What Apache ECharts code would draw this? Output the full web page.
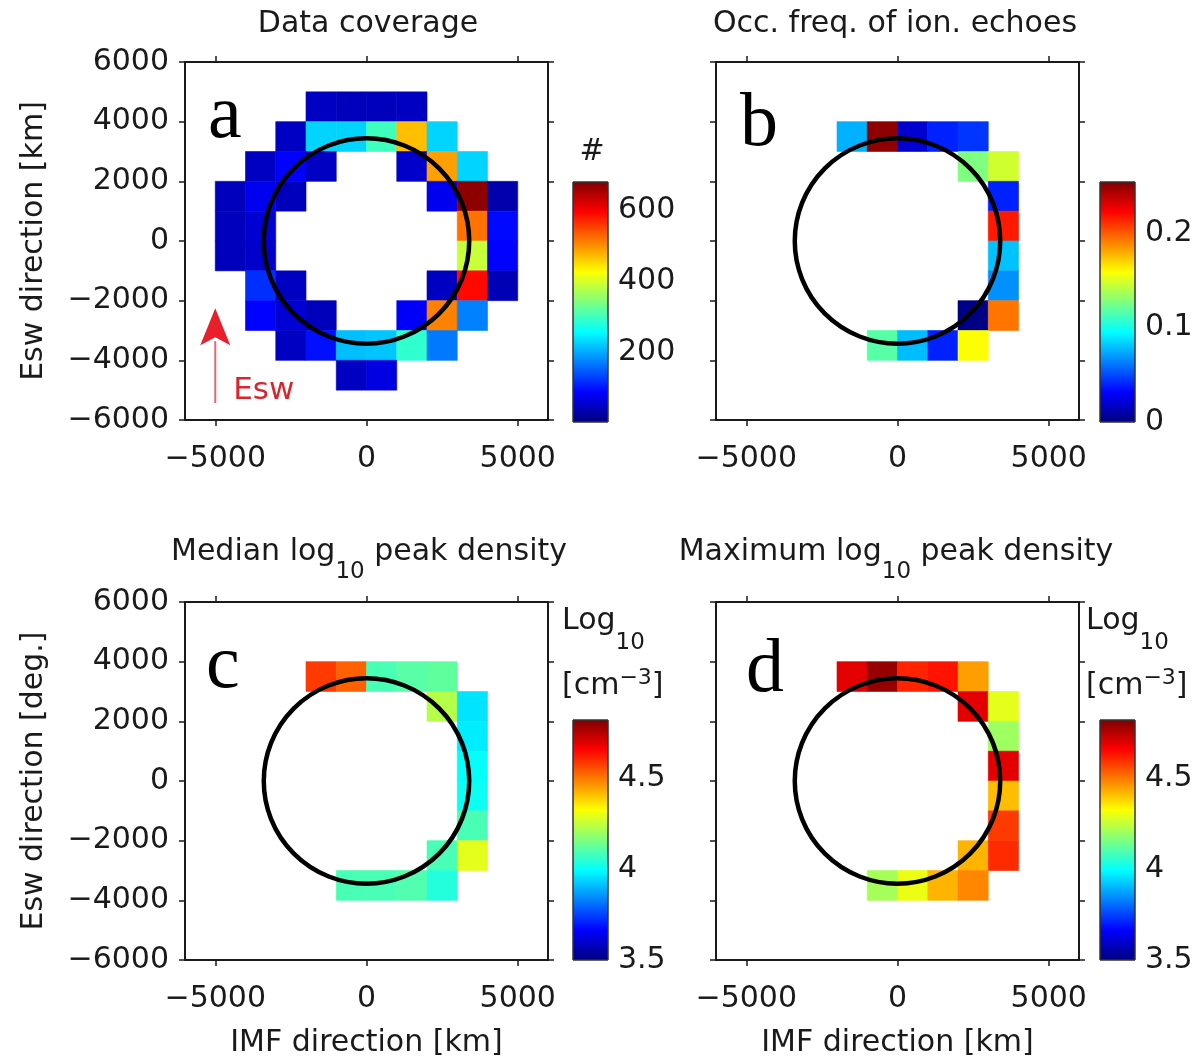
<!DOCTYPE html>
<html><head><meta charset="utf-8">
<script src="https://cdn.jsdelivr.net/npm/echarts@6/dist/echarts.min.js"></script>
<style>html,body{margin:0;padding:0;background:#fff}#c{width:1203px;height:1060px}</style>
</head><body><div id="c"></div>
<script>
// ---------------- data ----------------
const xTickValues = [-5000, 0, 5000];
const yTickValues = [-6000, -4000, -2000, 0, 2000, 4000, 6000];
const binSize = 1000;
const marsRadius = 3396;

// [x centre km, y centre km, value]
const coverageCells = [
  [-1500,4500,50],[-500,4500,45],[500,4500,45],[1500,4500,50],
  [-2500,3500,50],[-1500,3500,230],[-500,3500,230],[500,3500,300],[1500,3500,470],[2500,3500,230],
  [-3500,2500,50],[-2500,2500,90],[-1500,2500,50],[1500,2500,55],[2500,2500,490],[3500,2500,230],
  [-4500,1500,45],[-3500,1500,80],[-2500,1500,45],[2500,1500,80],[3500,1500,670],[4500,1500,35],
  [-4500,500,45],[-3500,500,60],[3500,500,520],[4500,500,95],
  [-4500,-500,45],[-3500,-500,55],[3500,-500,390],[4500,-500,90],
  [-3500,-1500,120],[-2500,-1500,50],[2500,-1500,50],[3500,-1500,590],[4500,-1500,40],
  [-3500,-2500,90],[-2500,-2500,60],[-1500,-2500,45],[1500,-2500,85],[2500,-2500,510],[3500,-2500,175],
  [-2500,-3500,50],[-1500,-3500,100],[-500,-3500,215],[500,-3500,220],[1500,-3500,290],[2500,-3500,170],
  [-500,-4500,50],[500,-4500,70]
];
const occFreqCells = [
  [-1500,3500,0.076],[-500,3500,0.25],[500,3500,0.02],[1500,3500,0.04],[2500,3500,0.045],
  [2500,2500,0.127],[3500,2500,0.147],
  [3500,1500,0.04],
  [3500,500,0.216],
  [3500,-500,0.08],
  [3500,-1500,0.068],
  [2500,-2500,0.002],[3500,-2500,0.193],
  [-500,-3500,0.117],[500,-3500,0.079],[1500,-3500,0.04],[2500,-3500,0.158]
];
const medianDensityCells = [
  [-1500,3500,4.58],[-500,3500,4.53],[500,3500,4.09],[1500,3500,4.11],[2500,3500,4.12],
  [2500,2500,4.23],[3500,2500,3.96],
  [3500,1500,3.97],
  [3500,500,4.0],
  [3500,-500,4.01],
  [3500,-1500,4.09],
  [2500,-2500,4.09],[3500,-2500,4.29],
  [-500,-3500,4.09],[500,-3500,4.09],[1500,-3500,4.10],[2500,-3500,4.04]
];
const maxDensityCells = [
  [-1500,3500,4.69],[-500,3500,4.79],[500,3500,4.61],[1500,3500,4.63],[2500,3500,4.45],
  [2500,2500,4.69],[3500,2500,4.29],
  [3500,1500,4.20],
  [3500,500,4.69],
  [3500,-500,4.41],
  [3500,-1500,4.58],
  [2500,-2500,4.42],[3500,-2500,4.60],
  [-500,-3500,4.21],[500,-3500,4.30],[1500,-3500,4.42],[2500,-3500,4.48]
];
const cbarRangeA = [5, 680];
const cbarRangeB = [0, 0.254];
const cbarRangeC = [3.5, 4.82];
const cbarRangeD = [3.5, 4.82];
const cbarTicksA = [200, 400, 600];
const cbarTicksB = [0, 0.1, 0.2];
const cbarTicksC = [3.5, 4, 4.5];
const cbarTicksD = [3.5, 4, 4.5];
const eswArrow = { x: -5000, from: -5430, to: -2250 };

// ---------------- styling/layout ----------------
const FONT = 'DejaVu Sans';
const FS = 30;
const INK = '#1a1a1a';
const jet = ['#00007f','#0000ff','#007fff','#00ffff','#7fff7f','#ffff00','#ff7f00','#ff0000','#7f0000'];

const panels = [
  { cells: coverageCells, range: cbarRangeA, ticks: cbarTicksA, grid: {left:185, top:62}, cbar: {left:573, top:182}, yLabels: true, xName: '', yName: 'Esw direction [km]' },
  { cells: occFreqCells, range: cbarRangeB, ticks: cbarTicksB, grid: {left:716, top:62}, cbar: {left:1100, top:182}, yLabels: false, xName: '', yName: '' },
  { cells: medianDensityCells, range: cbarRangeC, ticks: cbarTicksC, grid: {left:185, top:602}, cbar: {left:573, top:720}, yLabels: true, xName: 'IMF direction [km]', yName: 'Esw direction [deg.]' },
  { cells: maxDensityCells, range: cbarRangeD, ticks: cbarTicksD, grid: {left:716, top:602}, cbar: {left:1100, top:720}, yLabels: false, xName: 'IMF direction [km]', yName: '' }
];
const GW = 363, GH = 358, CW = 35, CH = 240;

const minus = v => (v < 0 ? '\u2212' + Math.abs(v) : String(v));
const axLine = { show: true, onZero: false, lineStyle: { color: INK, width: 2 } };
const axTick = vals => ({ show: true, inside: false, length: 6, customValues: vals, lineStyle: { color: INK, width: 1.5 } });

const grid = [], xAxis = [], yAxis = [], series = [], visualMap = [];

panels.forEach((p, i) => {
  grid.push({ left: p.grid.left, top: p.grid.top, width: GW, height: GH, containLabel: false });
  const gi = grid.length - 1;
  const xBase = { type: 'value', gridIndex: gi, min: -6000, max: 6000, interval: 1000, splitLine: { show: false }, axisLine: axLine };
  const yBase = { type: 'value', gridIndex: gi, min: -6000, max: 6000, interval: 2000, splitLine: { show: false }, axisLine: axLine };
  xAxis.push(Object.assign({}, xBase, {
    position: 'bottom', axisTick: axTick(xTickValues),
    axisLabel: { show: true, customValues: xTickValues, formatter: minus, margin: 24, fontSize: FS, fontFamily: FONT, color: INK },
    name: p.xName, nameLocation: 'middle', nameGap: 68, nameTextStyle: { fontSize: FS, fontFamily: FONT, color: INK }
  }));
  const xMain = xAxis.length - 1;
  xAxis.push(Object.assign({}, xBase, { position: 'top', axisTick: axTick(xTickValues), axisLabel: { show: false } }));
  yAxis.push(Object.assign({}, yBase, {
    position: 'left', axisTick: axTick(yTickValues),
    axisLabel: { show: p.yLabels, customValues: yTickValues, formatter: minus, margin: 16, fontSize: FS, fontFamily: FONT, color: INK },
    name: p.yName, nameLocation: 'middle', nameGap: 136, nameTextStyle: { fontSize: FS, fontFamily: FONT, color: INK }
  }));
  const yMain = yAxis.length - 1;
  yAxis.push(Object.assign({}, yBase, { position: 'right', axisTick: axTick(yTickValues), axisLabel: { show: false } }));

  series.push({
    type: 'custom', xAxisIndex: xMain, yAxisIndex: yMain, data: p.cells, encode: { x: 0, y: 1 }, z: 2, clip: true,
    renderItem: (params, api) => {
      const x = api.value(0), y = api.value(1);
      const c = api.coord([x - binSize / 2, y + binSize / 2]);
      const s = api.size([binSize, binSize]);
      const col = api.visual('color');
      return { type: 'rect', shape: { x: c[0], y: c[1], width: s[0], height: s[1] }, style: { fill: col, stroke: col, lineWidth: 0.6 } };
    }
  });
  visualMap.push({ type: 'continuous', show: false, seriesIndex: series.length - 1, dimension: 2, min: p.range[0], max: p.range[1], inRange: { color: jet } });
  series.push({
    type: 'custom', xAxisIndex: xMain, yAxisIndex: yMain, data: [[0, 0, marsRadius]], encode: { x: 0, y: 1 }, z: 5, silent: true,
    renderItem: (params, api) => {
      const c = api.coord([api.value(0), api.value(1)]);
      const r = api.size([api.value(2), 0])[0];
      return { type: 'circle', shape: { cx: c[0], cy: c[1], r: r }, style: { fill: null, stroke: '#000', lineWidth: 4.5 } };
    }
  });

  // colour bar
  grid.push({ left: p.cbar.left, top: p.cbar.top, width: CW, height: CH, containLabel: false });
  const cg = grid.length - 1;
  xAxis.push({ type: 'value', gridIndex: cg, min: 0, max: 1, show: false });
  yAxis.push({ type: 'value', gridIndex: cg, min: p.range[0], max: p.range[1], position: 'right',
    axisLine: { show: false }, axisTick: { show: false }, splitLine: { show: false },
    axisLabel: { show: true, customValues: p.ticks, formatter: v => String(v), margin: 10, fontSize: FS, fontFamily: FONT, color: INK } });
  series.push({
    type: 'custom', xAxisIndex: xAxis.length - 1, yAxisIndex: yAxis.length - 1, data: [[0, p.range[0]]], silent: true,
    renderItem: (params) => {
      const cs = params.coordSys;
      return { type: 'rect', shape: { x: cs.x, y: cs.y, width: cs.width, height: cs.height },
        style: { stroke: '#333', lineWidth: 1,
          fill: { type: 'linear', x: 0, y: 1, x2: 0, y2: 0, colorStops: jet.map((c, k) => ({ offset: k / (jet.length - 1), color: c })) } } };
    }
  });
});

const mainRich = { m: { fontSize: FS, fontFamily: FONT, color: INK, lineHeight: 34, verticalAlign: 'top' },
                   s: { fontSize: 23, fontFamily: FONT, color: INK, lineHeight: 22, verticalAlign: 'top', padding: [24, 0, 0, 0] } };
const txt = (id, x, y, text, extra) => ({ type: 'text', id: id, x: x, y: y, z: 10, silent: true,
  style: Object.assign({ text: text, fill: INK, font: FS + 'px "' + FONT + '"' }, extra || {}) });

const graphics = [
  txt('t1', 368, 9, '{m|Data coverage}', { align: 'center', verticalAlign: 'top', rich: mainRich }),
  txt('t2', 895, 9, '{m|Occ. freq. of ion. echoes}', { align: 'center', verticalAlign: 'top', rich: mainRich }),
  txt('t3', 369, 537, '{m|Median log}{s|10}{m| peak density}', { align: 'center', verticalAlign: 'top', rich: mainRich }),
  txt('t4', 896, 537, '{m|Maximum log}{s|10}{m| peak density}', { align: 'center', verticalAlign: 'top', rich: mainRich }),
  txt('la', 208, 117, 'a', { font: '76px "Liberation Serif"', fill: '#000', verticalAlign: 'middle' }),
  txt('lb', 740, 125, 'b', { font: '76px "Liberation Serif"', fill: '#000', verticalAlign: 'middle' }),
  txt('lc', 206, 667, 'c', { font: '76px "Liberation Serif"', fill: '#000', verticalAlign: 'middle' }),
  txt('ld', 746, 671, 'd', { font: '76px "Liberation Serif"', fill: '#000', verticalAlign: 'middle' }),
  txt('hash', 592, 152, '#', { align: 'center', verticalAlign: 'middle' })
];
const unitRich = { m: { fontSize: FS, fontFamily: FONT, color: INK, lineHeight: 34, verticalAlign: 'top', padding: [4, 0, 0, 0] },
                   p: { fontSize: 22, fontFamily: FONT, color: INK, lineHeight: 22, verticalAlign: 'top' } };
const subRich = { m: { fontSize: FS, fontFamily: FONT, color: INK, lineHeight: 34, verticalAlign: 'top' },
                  s: { fontSize: 23, fontFamily: FONT, color: INK, lineHeight: 22, verticalAlign: 'top', padding: [26, 0, 0, 0] } };
[[562, 'c'], [1086, 'd']].forEach(([x, k]) => {
  graphics.push(txt('log' + k, x, 606, '{m|Log}{s|10}', { align: 'left', verticalAlign: 'top', rich: subRich }));
  graphics.push(txt('unit' + k, x, 667, '{m|[cm}{p|\u22123}{m|]}', { align: 'left', verticalAlign: 'top', rich: unitRich }));
});

const chart = echarts.init(document.getElementById('c'), null, { renderer: 'canvas' });
chart.setOption({
  backgroundColor: '#fff', animation: false,
  grid: grid, xAxis: xAxis, yAxis: yAxis, series: series, visualMap: visualMap,
  graphic: { elements: graphics }
});

// Esw arrow in panel a, placed through the panel's own scales
const tip = chart.convertToPixel({ gridIndex: 0 }, [eswArrow.x, eswArrow.to]);
const tail = chart.convertToPixel({ gridIndex: 0 }, [eswArrow.x, eswArrow.from]);
const headLen = 37, headHalf = 15;
chart.setOption({ graphic: { elements: [
  { type: 'line', id: 'eswShaft', z: 10, silent: true, shape: { x1: tail[0], y1: tail[1], x2: tip[0], y2: tip[1] + headLen - 4 }, style: { stroke: '#e26a78', lineWidth: 2 } },
  { type: 'polygon', id: 'eswHead', z: 10, silent: true, shape: { points: [[tip[0], tip[1]], [tip[0] - headHalf, tip[1] + headLen], [tip[0], tip[1] + headLen - 8], [tip[0] + headHalf, tip[1] + headLen]] }, style: { fill: '#e8202c' } },
  { type: 'text', id: 'eswText', z: 10, silent: true, x: tail[0] + 18, y: tail[1] - 12, style: { text: 'Esw', fill: '#d8262e', font: '31px "' + FONT + '"', verticalAlign: 'middle' } }
] } });
</script></body></html>
